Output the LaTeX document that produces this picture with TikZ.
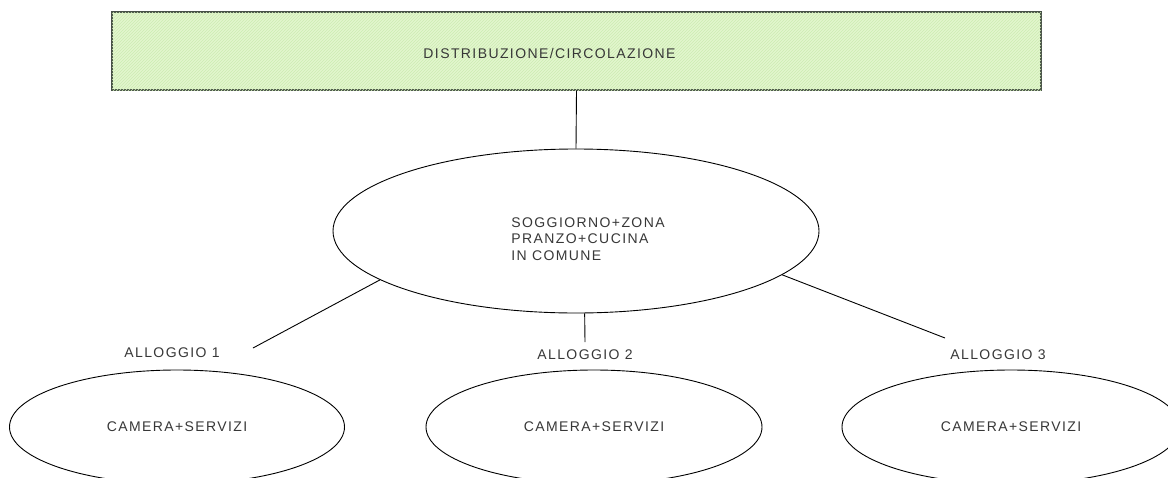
\documentclass[tikz,border=0pt]{standalone}
\usepackage{fontspec}
\newfontfamily\cadfont[LetterSpace=10]{Liberation Sans}
\usetikzlibrary{shapes.geometric,patterns}
\definecolor{hatchbg}{RGB}{226,246,206}
\definecolor{hatchln}{RGB}{205,236,178}
\definecolor{edgecol}{RGB}{70,80,70}
\definecolor{txtcol}{RGB}{55,55,55}
\tikzset{
  cadtext/.style={font=\cadfont\fontsize{14}{16.8}\selectfont, text=txtcol, inner sep=0pt},
  hatched/.style={draw=edgecol, line width=1.4pt, fill=hatchbg,
    postaction={pattern=north east lines, pattern color=hatchln}},
  room/.style={ellipse, draw, line width=0.9pt, inner sep=0pt, cadtext},
  link/.style={line width=0.9pt}
}
\begin{document}
\begin{tikzpicture}[x=1pt, y=-1pt]
  \useasboundingbox (0,0) rectangle (1168,477);
  \clip (0,0) rectangle (1168,477);

  % circulation strip
  \node[hatched, minimum width=929pt, minimum height=78pt, inner sep=0pt,
        label={[cadtext, xshift=-27pt, yshift=-2pt]center:DISTRIBUZIONE/CIRCOLAZIONE}]
        (dist) at (576.5,51) {};

  % shared living area
  \node[room, minimum width=486pt, minimum height=164pt,
        label={[cadtext, align=left, xshift=12pt, yshift=-8pt]center:SOGGIORNO+ZONA\\PRANZO+CUCINA\\IN COMUNE}]
        (living) at (576,231) {};

  % private units
  \node[room, minimum width=335pt, minimum height=114pt] (unitA) at (177,427) {CAMERA+SERVIZI};
  \node[room, minimum width=336pt, minimum height=114pt] (unitB) at (594,427) {CAMERA+SERVIZI};
  \node[room, minimum width=338pt, minimum height=114pt] (unitC) at (1011,427) {CAMERA+SERVIZI};

  % unit captions
  \node[cadtext] (capA) at (172,353) {ALLOGGIO 1};
  \node[cadtext] (capB) at (585,355) {ALLOGGIO 2};
  \node[cadtext] (capC) at (998,355) {ALLOGGIO 3};

  % connector ends next to the captions
  \coordinate (endA) at (253,348);
  \coordinate (endB) at (585,342);
  \coordinate (endC) at (945,338);

  \draw[link] (dist.south) -- (living.north);
  \draw[link] (living.194.7) -- (endA);
  \draw[link] (living.276.3) -- (endB);
  \draw[link] (living.348) -- (endC);
\end{tikzpicture}
\end{document}
